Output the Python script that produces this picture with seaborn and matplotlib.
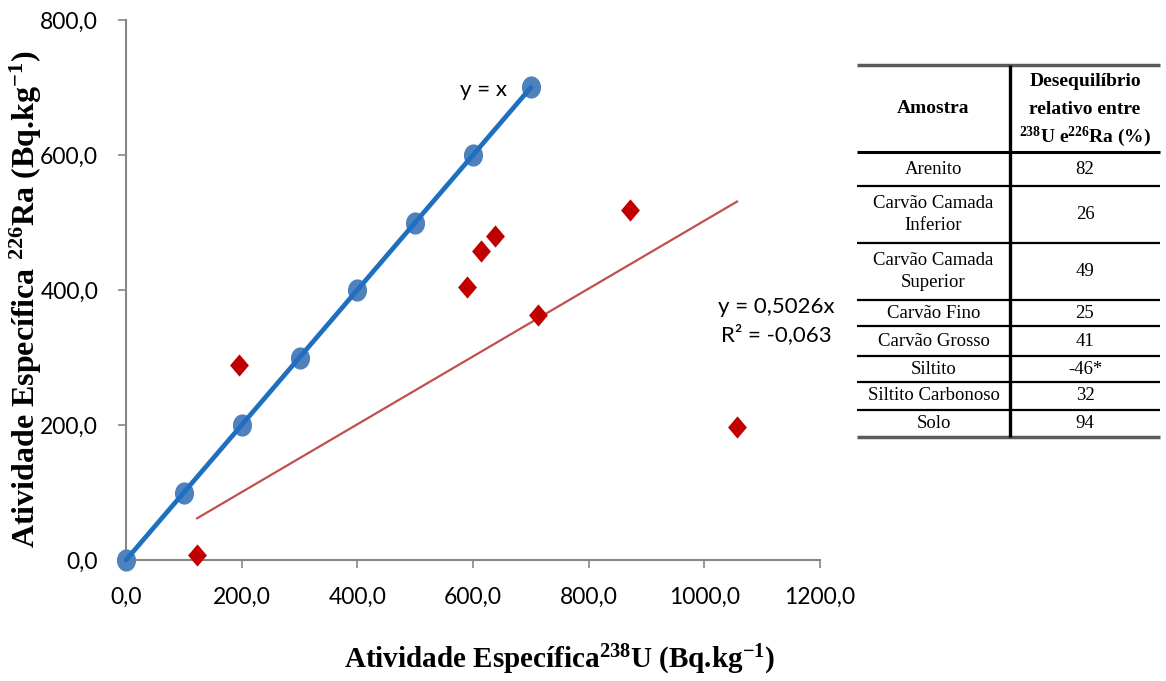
import numpy as np
import pandas as pd
import matplotlib
matplotlib.use("Agg")
import matplotlib.pyplot as plt
import seaborn as sns
from matplotlib.path import Path

# ---------------- data ----------------
ref_x = [0, 100, 200, 300, 400, 500, 600, 700]
ref_y = [0, 100, 200, 300, 400, 500, 600, 700]

u238 = [122.5, 195.5, 589.5, 613.5, 638.5, 712.0, 871.5, 1057.0]
ra226 = [8.0, 289.0, 404.0, 458.0, 480.0, 362.5, 518.5, 196.5]

fit_slope = 0.5026
fit_r2 = -0.063

x_ticks = [0, 200, 400, 600, 800, 1000, 1200]
y_ticks = [0, 200, 400, 600, 800]

amostras = ["Arenito", "Carvão Camada\nInferior", "Carvão Camada\nSuperior",
            "Carvão Fino", "Carvão Grosso", "Siltito", "Siltito Carbonoso", "Solo"]
deseq = ["82", "26", "49", "25", "41", "-46*", "32", "94"]

# ---------------- style ----------------
sns.set_theme(style="white")
plt.rcParams["font.family"] = ["Lato", "DejaVu Sans"]
plt.rcParams["mathtext.default"] = "regular"
plt.rcParams["text.color"] = "black"
plt.rcParams["axes.labelcolor"] = "black"

W, H = 1166, 681
fig = plt.figure(figsize=(W / 100, H / 100), dpi=100)

def px_box(l, t, r, b):
    return [l / W, 1 - b / H, (r - l) / W, (b - t) / H]

ax = fig.add_axes(px_box(126, 20, 820, 560))

ell = Path.unit_circle()
ell = Path(ell.vertices * np.array([0.86, 1.0]), ell.codes)
diamond = Path([(0, 1), (0.85, 0), (0, -1), (-0.85, 0), (0, 1)],
               [Path.MOVETO, Path.LINETO, Path.LINETO, Path.LINETO, Path.CLOSEPOLY])

df_ref = pd.DataFrame({"x": ref_x, "y": ref_y})
df_s = pd.DataFrame({"x": u238, "y": ra226})

sns.scatterplot(data=df_ref, x="x", y="y", marker=ell, s=16 ** 2, color="#4F81BD",
                edgecolor="#4F81BD", linewidth=0, ax=ax, zorder=3)
sns.lineplot(data=df_ref, x="x", y="y", color="#1F6FC0", linewidth=3.4, ax=ax, zorder=4)

sns.scatterplot(data=df_s, x="x", y="y", marker=diamond, s=16 ** 2, color="#C00000",
                edgecolor="#C00000", linewidth=0, ax=ax, zorder=3)
fx = np.array([min(u238), max(u238)])
sns.lineplot(x=fx, y=fit_slope * fx, color="#C0504D", linewidth=1.6, ax=ax, zorder=2)

ax.set_xlim(0, 1200)
ax.set_ylim(0, 800)
ax.set_xticks(x_ticks)
ax.set_yticks(y_ticks)
ax.set_xticklabels([f"{v:.1f}".replace(".", ",") for v in x_ticks])
ax.set_yticklabels([f"{v:.1f}".replace(".", ",") for v in y_ticks])
for s in ["top", "right"]:
    ax.spines[s].set_visible(False)
for s in ["left", "bottom"]:
    ax.spines[s].set_color("#868686")
    ax.spines[s].set_linewidth(1.5)
    ax.spines[s].set_zorder(1)
ax.tick_params(axis="both", which="major", direction="out", length=6, width=1.2,
               color="#868686", labelsize=16.5, labelcolor="black",
               left=True, bottom=True)
ax.tick_params(axis="x", pad=13)
ax.tick_params(axis="y", pad=14)
for c in ax.collections:
    c.set_clip_on(False)
for l in ax.lines:
    l.set_clip_on(False)

ax.set_xlabel("")
ax.set_ylabel("")
fig.text(560 / W, 1 - 660 / H, r"Atividade Específica$^{238}$U (Bq.kg$^{-1}$)",
         family="Liberation Serif", fontweight="bold", fontsize=21,
         ha="center", va="center")
fig.text(26 / W, 1 - 299 / H, r"Atividade Específica $^{226}$Ra (Bq.kg$^{-1}$)",
         family="Liberation Serif", fontweight="bold", fontsize=23,
         ha="center", va="center", rotation=90)

fig.text(484 / W, 1 - 90 / H, "y = x", ha="center", va="center", fontsize=16)
eq = "y = " + f"{fit_slope:.4f}".replace(".", ",") + "x\nR² = " + f"{fit_r2:.3f}".replace(".", ",")
fig.text(776 / W, 1 - 321 / H, eq, ha="center", va="center", fontsize=16,
         linespacing=1.45)

# ---------------- table ----------------
tx = fig.add_axes(px_box(857, 62, 1162, 440))
tx.set_xlim(857, 1162)
tx.set_ylim(440, 62)
tx.axis("off")

bounds = [65, 152, 186, 243, 300, 326, 356, 382, 410, 437]
colsplit = 1010
c1 = (857 + colsplit) / 2
c2 = (colsplit + 1160) / 2
serif = "Liberation Serif"

tx.hlines([bounds[0]], 857, 1160, color="#5a5a5a", linewidth=2.5)
tx.hlines([bounds[1]], 857, 1160, color="black", linewidth=2.2)
tx.hlines(bounds[2:-1], 857, 1160, color="black", linewidth=1.6)
tx.hlines([bounds[-1]], 857, 1160, color="#5a5a5a", linewidth=2.5)
tx.vlines([colsplit], bounds[0], bounds[-1], color="black", linewidth=2.4)

tx.text(c1, (bounds[0] + bounds[1]) / 2, "Amostra", ha="center", va="center",
        family=serif, fontweight="bold", fontsize=14)
tx.text(c2, 81, "Desequilíbrio", ha="center", va="center",
        family=serif, fontweight="bold", fontsize=14)
tx.text(c2, 109, "relativo entre", ha="center", va="center",
        family=serif, fontweight="bold", fontsize=14)
tx.text(c2, 137, r"$^{238}$U e$^{226}$Ra (%)", ha="center", va="center",
        family=serif, fontweight="bold", fontsize=14)

for i, (a, d) in enumerate(zip(amostras, deseq)):
    yc = (bounds[i + 1] + bounds[i + 2]) / 2
    tx.text(c1, yc, a, ha="center", va="center", family=serif, fontsize=13.5,
            linespacing=1.35)
    tx.text(c2, yc, d, ha="center", va="center", family=serif, fontsize=13.5)

fig.savefig("out.png", dpi=100)
